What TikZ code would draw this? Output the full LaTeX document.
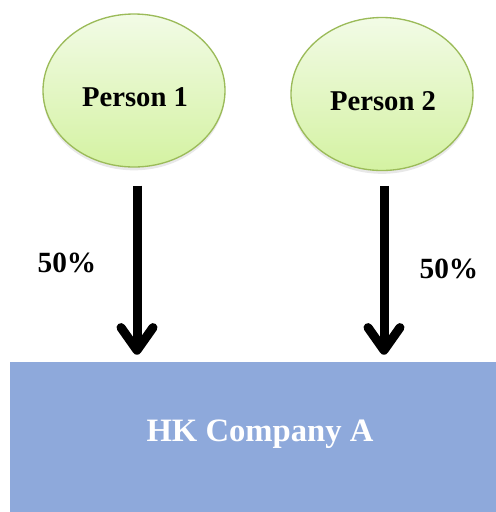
\documentclass[tikz,border=0pt]{standalone}
\usepackage{fontspec}
\setmainfont{Liberation Serif}
\usetikzlibrary{shapes.geometric,arrows.meta,shadows}
\definecolor{ellline}{HTML}{9BBB59}
\definecolor{elltop}{HTML}{F2FBE6}
\definecolor{ellbot}{HTML}{D4F2A2}
\definecolor{boxfill}{HTML}{8EA9DB}
\tikzset{
  person/.style={ellipse, draw=ellline, line width=1pt, top color=elltop, bottom color=ellbot,
    minimum width=136.5pt, minimum height=114.75pt, inner sep=0pt,
    drop shadow={opacity=0.18, shadow xshift=0pt, shadow yshift=-2.5pt}},
  ptext/.style={anchor=base, font=\bfseries\fontsize{21.5}{24}\selectfont, text=black},
  pct/.style={anchor=base, font=\bfseries\fontsize{22}{26}\selectfont, text=black},
  company/.style={rectangle, fill=boxfill, draw=none, minimum width=364.5pt, minimum height=112.5pt, inner sep=0pt},
  ctext/.style={anchor=base, font=\bfseries\fontsize{24.5}{28}\selectfont, text=white},
  arr/.style={line width=6.75pt, -{Straight Barb[length=17pt, width=24pt, line cap=round, line join=round]}}
}
\begin{document}
\begin{tikzpicture}[x=0.75pt, y=-0.75pt]
\useasboundingbox (0,0) rectangle (496,512);
\node[person] (p1) at (134,90.5) {};
\node[person] (p2) at (382,94) {};
\node[ptext] (p1t) at (135,106) {Person 1};
\node[ptext] (p2t) at (383,110) {Person 2};
\node[company] (hk) at (253,437) {};
\node[ctext] (hkt) at (260,441) {HK Company A};
\draw[arr, shorten <=13.5pt, shorten >=5.25pt] ([xshift=2.25pt]p1.south) -- ([xshift=2.25pt]p1.south |- hk.north);
\draw[arr, shorten <=11pt, shorten >=5.25pt] ([xshift=1.5pt]p2.south) -- ([xshift=1.5pt]p2.south |- hk.north);
\node[pct] (l1) at (67,272) {50\%};
\node[pct] (l2) at (449,278) {50\%};
\end{tikzpicture}
\end{document}
